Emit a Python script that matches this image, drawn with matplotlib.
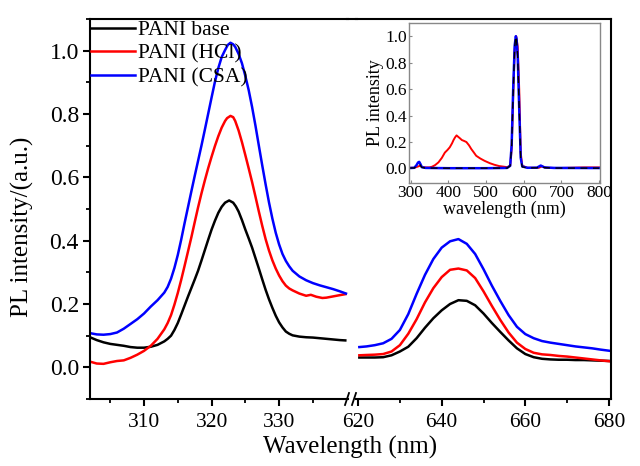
import matplotlib
matplotlib.use('Agg')
import matplotlib.pyplot as plt
from matplotlib.lines import Line2D
from matplotlib.ticker import MultipleLocator, FixedLocator, FormatStrFormatter

plt.rcParams['font.family'] = ['Liberation Serif', 'DejaVu Serif']

labels = ['PANI base', 'PANI (HCl)', 'PANI (CSA)']

# left part of the broken axis (around 322 nm)
base_x1 = [302, 303, 304, 305, 306, 307, 308, 309, 310, 311, 312, 313, 313.5, 314, 314.5, 315, 315.5, 316, 316.5,
           317, 317.5, 318, 318.5, 319, 319.5, 320, 320.5, 321, 321.5, 322, 322.6, 323.2, 323.6, 324, 324.5, 325,
           325.5, 326, 326.5, 327, 327.5, 328, 328.5, 329, 329.5, 330, 330.5, 331, 331.5, 332, 333, 334, 335, 336,
           337, 338, 339, 339.8]
base_y1 = [0.095, 0.086, 0.079, 0.074, 0.071, 0.068, 0.064, 0.062, 0.062, 0.065, 0.071, 0.082, 0.090, 0.100, 0.118,
           0.140, 0.167, 0.195, 0.223, 0.250, 0.277, 0.305, 0.337, 0.370, 0.403, 0.435, 0.463, 0.488, 0.507, 0.520,
           0.527, 0.520, 0.508, 0.492, 0.465, 0.435, 0.407, 0.378, 0.345, 0.312, 0.278, 0.245, 0.215, 0.188, 0.163,
           0.142, 0.126, 0.113, 0.106, 0.101, 0.097, 0.095, 0.094, 0.092, 0.090, 0.088, 0.086, 0.085]

hcl_x1 = [302, 303, 304, 305, 306, 307, 308, 309, 310, 311, 312, 313, 313.5, 314, 314.5, 315, 315.5, 316, 316.5,
          317, 317.5, 318, 318.5, 319, 319.5, 320, 320.5, 321, 321.5, 322, 322.3, 322.8, 323.2, 323.5, 324, 324.5,
          325, 325.5, 326, 326.5, 327, 327.5, 328, 328.5, 329, 329.5, 330, 330.5, 331, 331.5, 332, 333, 334, 334.7,
          335.5, 336.4, 337, 338, 339, 339.8]
hcl_y1 = [0.018, 0.012, 0.011, 0.016, 0.020, 0.022, 0.030, 0.040, 0.052, 0.068, 0.090, 0.120, 0.140, 0.165, 0.198,
          0.235, 0.276, 0.320, 0.365, 0.410, 0.458, 0.505, 0.549, 0.590, 0.629, 0.665, 0.699, 0.730, 0.757, 0.778,
          0.787, 0.794, 0.790, 0.778, 0.748, 0.711, 0.670, 0.628, 0.585, 0.539, 0.492, 0.447, 0.405, 0.369, 0.338,
          0.312, 0.290, 0.272, 0.258, 0.249, 0.243, 0.233, 0.226, 0.229, 0.223, 0.219, 0.220, 0.224, 0.228, 0.231]

csa_x1 = [302, 303, 304, 305, 306, 307, 308, 309, 310, 311, 312, 313, 313.5, 314, 314.5, 315, 315.5, 316, 316.5,
          317, 317.5, 318, 318.5, 319, 319.5, 320, 320.5, 321, 321.5, 322, 322.4, 322.8, 323.2, 323.5, 324, 324.5,
          325, 325.5, 326, 326.5, 327, 327.5, 328, 328.5, 329, 329.5, 330, 330.5, 331, 331.5, 332, 333, 334, 335,
          336, 337, 338, 339, 339.9]
csa_y1 = [0.108, 0.104, 0.103, 0.105, 0.110, 0.122, 0.137, 0.152, 0.170, 0.192, 0.212, 0.236, 0.254, 0.280, 0.314,
          0.355, 0.403, 0.455, 0.505, 0.555, 0.604, 0.652, 0.700, 0.750, 0.801, 0.852, 0.902, 0.945, 0.980, 1.002,
          1.018, 1.025, 1.020, 1.012, 0.990, 0.960, 0.920, 0.875, 0.822, 0.763, 0.700, 0.638, 0.578, 0.521, 0.470,
          0.425, 0.388, 0.358, 0.336, 0.319, 0.305, 0.287, 0.275, 0.266, 0.259, 0.253, 0.247, 0.240, 0.233]

# right part (around 644 nm)
x2 = [620.3, 622, 624, 626, 628, 630, 632, 634, 636, 638, 640, 642, 644, 646, 648, 650, 652, 654, 656, 658,
      660, 662, 664, 666, 668, 670, 672, 674, 676, 678, 680.3]
base_y2 = [0.031, 0.031, 0.031, 0.032, 0.038, 0.050, 0.065, 0.092, 0.125, 0.155, 0.180, 0.200, 0.212, 0.210,
           0.196, 0.170, 0.140, 0.112, 0.085, 0.060, 0.042, 0.032, 0.027, 0.025, 0.024, 0.024, 0.023, 0.023,
           0.022, 0.021, 0.020]
hcl_y2 = [0.038, 0.039, 0.040, 0.042, 0.050, 0.070, 0.106, 0.152, 0.205, 0.250, 0.285, 0.308, 0.312, 0.306,
          0.282, 0.240, 0.194, 0.150, 0.110, 0.078, 0.058, 0.046, 0.041, 0.039, 0.036, 0.034, 0.031, 0.028,
          0.025, 0.022, 0.019]
csa_y2 = [0.064, 0.066, 0.070, 0.076, 0.090, 0.118, 0.168, 0.232, 0.292, 0.342, 0.378, 0.398, 0.405, 0.390,
          0.358, 0.310, 0.258, 0.210, 0.165, 0.128, 0.105, 0.092, 0.083, 0.078, 0.074, 0.070, 0.066, 0.063,
          0.060, 0.056, 0.052]

# inset, full spectra
ins_red_x = [296, 310, 320, 325, 330, 340, 350, 357, 365, 374, 383, 391, 398, 404, 410, 414, 418, 422, 426, 431,
             436, 442, 448, 455, 461, 468, 474, 485, 496, 510, 522, 535, 548, 556, 564, 568, 572, 576, 580, 584,
             588, 592, 596, 610, 640, 648, 660, 690, 760, 800]
ins_red_y = [0.005, 0.005, 0.015, 0.02, 0.012, 0.008, 0.008, 0.013, 0.025, 0.046, 0.08, 0.12, 0.14, 0.16, 0.19,
             0.215, 0.235, 0.25, 0.24, 0.228, 0.215, 0.208, 0.2, 0.175, 0.147, 0.12, 0.096, 0.075, 0.058, 0.04,
             0.028, 0.018, 0.013, 0.01, 0.02, 0.15, 0.55, 0.9, 1.0, 0.92, 0.6, 0.12, 0.02, 0.005, 0.005, 0.015,
             0.005, 0.003, 0.008, 0.008]
ins_x = [296, 310, 316, 320, 323, 326, 330, 340, 400, 500, 556, 564, 568, 572, 576, 579, 581, 584, 588, 592, 596,
         610, 635, 645, 655, 680, 800]
ins_blue_y = [0.003, 0.005, 0.025, 0.045, 0.05, 0.035, 0.01, 0.004, 0.002, 0.002, 0.004, 0.02, 0.18, 0.6, 0.93,
              1.0, 0.98, 0.85, 0.45, 0.08, 0.015, 0.005, 0.006, 0.022, 0.008, 0.004, 0.003]
ins_black_y = [0.003, 0.004, 0.018, 0.03, 0.035, 0.025, 0.008, 0.003, 0.002, 0.002, 0.003, 0.02, 0.17, 0.58,
               0.92, 1.0, 0.97, 0.84, 0.44, 0.07, 0.012, 0.004, 0.005, 0.018, 0.006, 0.003, 0.002]

W, H = 640, 466
fig = plt.figure(figsize=(6.4, 4.66), dpi=100)

def box(x0, y0, x1, y1):
    return [x0 / W, 1 - y1 / H, (x1 - x0) / W, (y1 - y0) / H]

ax1 = fig.add_axes(box(90, 19, 348, 399))
ax2 = fig.add_axes(box(356, 19, 611, 399))

lw = 1.8
for xs, ys, c, lab in [(base_x1, base_y1, 'black', labels[0]), (hcl_x1, hcl_y1, 'red', labels[1]),
                       (csa_x1, csa_y1, 'blue', labels[2])]:
    ax1.plot(xs, ys, color=c, lw=lw, label=lab)
for ys, c in [(base_y2, 'black'), (hcl_y2, 'red'), (csa_y2, 'blue')]:
    ax2.plot(x2, ys, color=c, lw=lw)

for ax in (ax1, ax2):
    ax.set_ylim(-0.1, 1.1)
    for s in ax.spines.values():
        s.set_linewidth(1.5)
ax1.set_xlim(302, 340.2)
ax2.set_xlim(619.5, 680.5)

ax1.spines['right'].set_visible(False)
ax2.spines['left'].set_visible(False)

ax1.xaxis.set_major_locator(FixedLocator([310, 320, 330]))
ax1.xaxis.set_minor_locator(FixedLocator([305, 315, 325, 335]))
ax2.xaxis.set_major_locator(MultipleLocator(20))
ax2.xaxis.set_minor_locator(MultipleLocator(10))
ax1.yaxis.set_major_locator(MultipleLocator(0.2))
ax1.yaxis.set_minor_locator(MultipleLocator(0.1))
ax1.yaxis.set_major_formatter(FormatStrFormatter('%.1f'))
ax2.set_yticks([])

for ax in (ax1, ax2):
    ax.tick_params(which='major', length=5, width=1.5, top=False, right=False)
    ax.tick_params(which='minor', length=3, width=1.3, top=False, right=False)
    ax.tick_params(axis='x', labelsize=15.5, pad=5)
ax1.tick_params(axis='y', labelsize=17, pad=3)

fig.text(22 / W, 1 - 227 / H, 'PL intensity/(a.u.)', fontsize=18, rotation=90, ha='center', va='center')
fig.text(350 / W, 1 - 447 / H, 'Wavelength (nm)', fontsize=18, ha='center', va='center')

# continuous top border and the break marks
fig.add_artist(Line2D([347 / W, 357 / W], [1 - 19 / H, 1 - 19 / H], color='black', lw=1.5))
for xc in (347, 354):
    fig.add_artist(Line2D([(xc - 2) / W, (xc + 2) / W], [1 - 405 / H, 1 - 393 / H], color='black', lw=1.3))

ax1.legend(loc='upper left', frameon=False, fontsize=15.5, handlelength=2.05, handletextpad=0.15,
           labelspacing=0.16, borderaxespad=0.0, borderpad=0.05)

# inset
axin = fig.add_axes(box(409, 23, 600, 183))
axin.plot(ins_red_x, ins_red_y, color='red', lw=1.4)
axin.plot(ins_x, ins_blue_y, color='blue', lw=1.8)
axin.plot(ins_x, ins_black_y, color='black', lw=1.0, ls=(0, (5, 4)))
axin.set_xlim(296, 802)
axin.set_ylim(-0.11, 1.1)
axin.xaxis.set_major_locator(MultipleLocator(100))
axin.yaxis.set_major_locator(MultipleLocator(0.2))
axin.yaxis.set_major_formatter(FormatStrFormatter('%.1f'))
for s in axin.spines.values():
    s.set_color('#888888')
    s.set_linewidth(1.0)
axin.tick_params(direction='in', length=2.5, width=0.8, color='#888888', labelsize=12.5, pad=1.5)
axin.set_xlabel('wavelength (nm)', fontsize=13, labelpad=0)
axin.set_ylabel('PL intensity', fontsize=13, labelpad=1)

fig.savefig('out.png', dpi=100)
